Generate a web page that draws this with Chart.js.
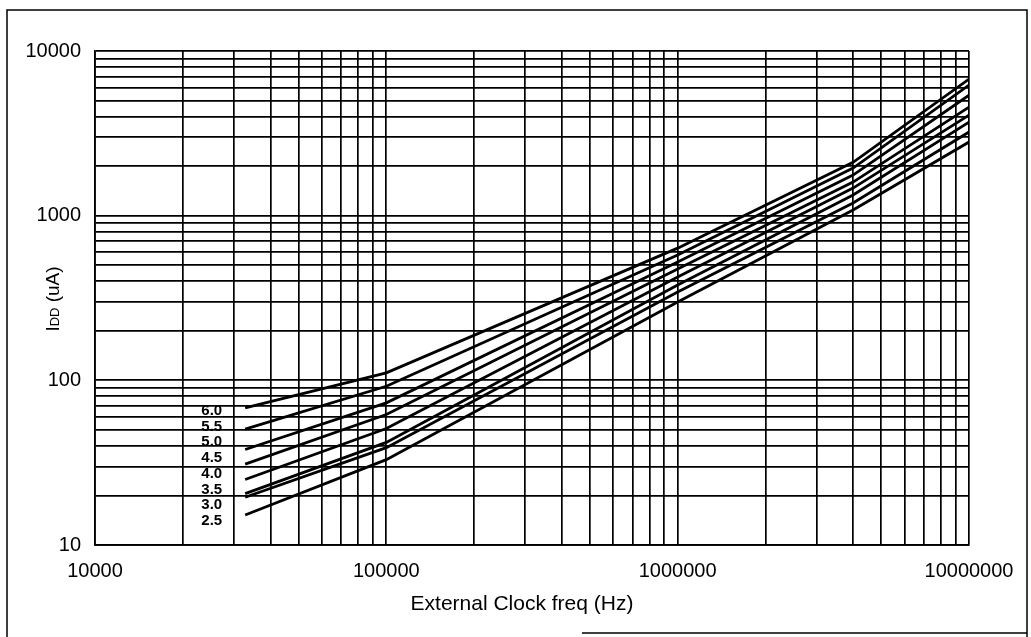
<!DOCTYPE html>
<html>
<head>
<meta charset="utf-8">
<script src="https://cdn.jsdelivr.net/npm/chart.js@4"></script>
<style>
  html, body { margin: 0; padding: 0; background: #fff; }
  #wrap { width: 1031px; height: 637px; position: relative; }
</style>
</head>
<body>
<div id="wrap"><canvas id="chart" width="1031" height="637"></canvas></div>
<script>
// supply voltages (one curve each) and the current
const VOLTAGES = ["6.0", "5.5", "5.0", "4.5", "4.0", "3.5", "3.0", "2.5"];
const FREQ = [32768, 100000, 1000000, 4000000, 10000000];
const IDD_60 = [68, 111, 635, 2110, 6750];
const IDD_55 = [50.6, 92, 577, 1945, 6210];
const IDD_50 = [38, 73, 523, 1765, 5390];
const IDD_45 = [31, 62, 474, 1600, 4560];
const IDD_40 = [25, 51, 424, 1470, 4080];
const IDD_35 = [20.5, 42, 379, 1335, 3700];
const IDD_30 = [19.5, 39, 344, 1195, 3220];
const IDD_25 = [15.2, 33, 299, 1082, 2800];
const IDD = [IDD_60, IDD_55, IDD_50, IDD_45, IDD_40, IDD_35, IDD_30, IDD_25];

const X_DECADES = [10000, 100000, 1000000, 10000000];
const X_TICK_LABELS = ["10000", "100000", "1000000", "10000000"];
const Y_DECADES = [10, 100, 1000, 10000];
const Y_TICK_LABELS = ["10", "100", "1000", "10000"];

const FONT = "'Liberation Sans', Arial, sans-serif";

// 1..9 x each decade, for the grid
function logTicks(decades) {
    let out = [];
    for (let i = 0; i < decades.length - 1; i++) {
        for (let m = 1; m < 10; m++) out.push({ value: decades[i] * m });
    }
    out.push({ value: decades[decades.length - 1] });
    return out;
}

const datasets = VOLTAGES.map((v, i) => ({
    label: v,
    data: FREQ.map((f, j) => ({ x: f, y: IDD[i][j] })),
    borderColor: "#000",
    borderWidth: 2.8,
    pointRadius: 0,
    tension: 0,
    fill: false
}));

const framePlugin = {
    id: "frame",
    beforeDraw(chart) {
        const c = chart.ctx;
        c.save();
        c.fillStyle = "#fff";
        c.fillRect(0, 0, chart.width, chart.height);
        c.strokeStyle = "#000";
        c.lineWidth = 1.5;
        c.beginPath();
        c.moveTo(7, 637);
        c.lineTo(7, 10);
        c.lineTo(1027, 10);
        c.lineTo(1027, 637);
        c.moveTo(582, 633);
        c.lineTo(1027, 633);
        c.stroke();
        c.restore();
    }
};

const textPlugin = {
    id: "texts",
    afterDraw(chart) {
        const c = chart.ctx;
        const xs = chart.scales.x, ys = chart.scales.y;
        c.save();
        c.fillStyle = "#000";

        // curve labels stacked left of the curve starts
        c.font = "bold 15px " + FONT;
        c.textAlign = "right";
        c.textBaseline = "middle";
        let x0 = xs.getPixelForValue(FREQ[0]) - 23;
        let y0 = ys.getPixelForValue(IDD[0][0]) + 3;
        VOLTAGES.forEach((v, i) => {
            c.fillText(v, x0, y0 + i * 15.7);
        });

        // x title
        c.font = "21px " + FONT;
        c.textAlign = "center";
        c.textBaseline = "middle";
        c.fillText("External Clock freq (Hz)", 522, 604);

        // y title: I with small DD
        c.translate(52, 299);
        c.rotate(-Math.PI / 2);
        const parts = [["I", "19px "], ["DD", "13px "], [" (uA)", "19px "]];
        let w = 0;
        parts.forEach(p => { c.font = p[1] + FONT; w += c.measureText(p[0]).width; });
        let px = -w / 2;
        c.textAlign = "left";
        c.textBaseline = "alphabetic";
        parts.forEach(p => {
            c.font = p[1] + FONT;
            c.fillText(p[0], px, 7);
            px += c.measureText(p[0]).width;
        });
        c.restore();
    }
};

new Chart(document.getElementById("chart").getContext("2d"), {
    type: "line",
    data: { datasets: datasets },
    plugins: [framePlugin, textPlugin],
    options: {
        responsive: false,
        animation: false,
        layout: { padding: { left: 0, top: 51, right: 62, bottom: 0 } },
        plugins: { legend: { display: false }, tooltip: { enabled: false } },
        scales: {
            x: {
                type: "logarithmic",
                min: 10000,
                max: 10000000,
                afterBuildTicks(s) { s.ticks = logTicks(X_DECADES); },
                afterFit(s) { s.height = 92; },
                border: { color: "#000", width: 1.7 },
                grid: { color: "#000", lineWidth: 1.7, drawTicks: false },
                ticks: {
                    autoSkip: false,
                    maxRotation: 0,
                    padding: 14,
                    color: "#000",
                    font: { family: FONT, size: 20 },
                    callback(v) {
                        let k = X_DECADES.indexOf(v);
                        return k >= 0 ? X_TICK_LABELS[k] : "";
                    }
                }
            },
            y: {
                type: "logarithmic",
                min: 10,
                max: 10000,
                afterBuildTicks(s) { s.ticks = logTicks(Y_DECADES); },
                afterFit(s) { s.width = 95; },
                border: { color: "#000", width: 1.7 },
                grid: { color: "#000", lineWidth: 1.7, drawTicks: false },
                ticks: {
                    autoSkip: false,
                    padding: 14,
                    color: "#000",
                    font: { family: FONT, size: 20 },
                    callback(v) {
                        let k = Y_DECADES.indexOf(v);
                        return k >= 0 ? Y_TICK_LABELS[k] : "";
                    }
                }
            }
        }
    }
});
</script>
</body>
</html>
